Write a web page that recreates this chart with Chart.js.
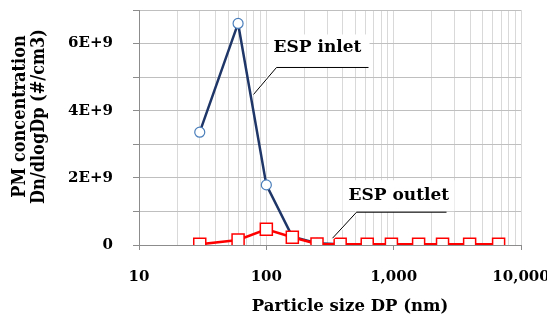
<!DOCTYPE html>
<html>
<head>
<meta charset="utf-8">
<script src="https://cdn.jsdelivr.net/npm/chart.js@4.4.0/dist/chart.umd.min.js"></script>
<style>
  html, body { margin: 0; padding: 0; background: #fff; }
  #wrap { width: 547px; height: 323px; position: relative; }
</style>
</head>
<body>
<div id="wrap"><canvas id="pmChart"></canvas></div>
<script>
// particle size (nm) of each stage
const sizes = [30, 60, 100, 160, 250, 380, 620, 960, 1570, 2420, 3950, 6670];
// number concentration dN/dlogDp (#/cm3)
const inlet  = [3.36e9, 6.6e9, 1.79e9, 0.25e9, 0.05e9, 0.02e9, 0.02e9, 0.02e9, 0.02e9, 0.02e9, 0.02e9, 0.02e9];
const outlet = [0.02e9, 0.15e9, 0.47e9, 0.23e9, 0.03e9, 0.02e9, 0.02e9, 0.02e9, 0.02e9, 0.02e9, 0.02e9, 0.02e9];
// axis ticks
const xDecades = [10, 100, 1000, 10000];
const yLabels = {0: '0', 2e9: '2E+9', 4e9: '4E+9', 6e9: '6E+9'};
const xTitle = 'Particle size DP (nm)';
const yTitle = ['PM concentration', 'Dn/dlogDp (#/cm3)'];

const font = 'DejaVu Serif';

// axis titles, placed by hand so they sit where the original has them
const titlePlugin = {
    id: 'axisTitles',
    afterDraw(chart) {
        const ctx = chart.ctx;
        const area = chart.chartArea;
        ctx.save();
        ctx.fillStyle = '#000';
        ctx.textAlign = 'center';
        ctx.textBaseline = 'middle';
        ctx.font = 'bold 16.5px "' + font + '"';
        ctx.fillText(xTitle, (area.left + area.right) / 2 + 20, 307);
        // y title: tall, slightly condensed lettering
        ctx.translate(0, (area.top + area.bottom) / 2 - 11);
        ctx.rotate(-Math.PI / 2);
        ctx.scale(0.85, 1);
        ctx.font = 'bold 19px "' + font + '"';
        yTitle.forEach((line, i) => ctx.fillText(line, 0, 20 + i * 19));
        ctx.restore();
    }
};

// label boxes with leader lines (ESP inlet / ESP outlet)
const calloutPlugin = {
    id: 'callouts',
    afterDatasetsDraw(chart) {
        const ctx = chart.ctx;
        const callouts = [
            { ds: 0, i: 1, t: 0.44, text: 'ESP inlet', tip: [3, 0], elbow: [23, -27], len: 92, box: [-8, -33, 101, 33], tx: -3, ty: -20 },
            { ds: 1, i: 4, t: 0.67, text: 'ESP outlet', tip: [0, -6], elbow: [24, -26], len: 90, box: [-14, -32, 112, 31], tx: -8, ty: -17 }
        ];
        ctx.save();
        callouts.forEach(c => {
            const pts = chart.getDatasetMeta(c.ds).data;
            const a = pts[c.i], b = pts[c.i + 1];
            const ax = a.x + (b.x - a.x) * c.t + c.tip[0];
            const ay = a.y + (b.y - a.y) * c.t + c.tip[1];
            const ex = ax + c.elbow[0], ey = ay + c.elbow[1];
            ctx.fillStyle = '#fff';
            ctx.fillRect(ex + c.box[0], ey + c.box[1], c.box[2], c.box[3]);
            ctx.strokeStyle = '#fff';
            ctx.lineWidth = 3;
            ctx.beginPath();
            ctx.moveTo(ax, ay);
            ctx.lineTo(ex, ey);
            ctx.stroke();
            ctx.strokeStyle = '#000';
            ctx.lineWidth = 1;
            ctx.beginPath();
            ctx.moveTo(ax, ay);
            ctx.lineTo(ex, ey);
            ctx.lineTo(ex + c.len, ey);
            ctx.stroke();
            ctx.fillStyle = '#000';
            ctx.font = 'bold 17px "' + font + '"';
            ctx.textBaseline = 'middle';
            ctx.textAlign = 'left';
            ctx.fillText(c.text, ex + c.tx, ey + c.ty);
        });
        ctx.restore();
    }
};

function noPad(scale) {
    scale.paddingTop = 0;
    scale.paddingBottom = 0;
    scale.paddingLeft = 0;
    scale.paddingRight = 0;
}

new Chart(document.getElementById('pmChart'), {
    type: 'line',
    data: {
        datasets: [{
            label: 'ESP inlet',
            data: sizes.map((s, i) => ({ x: s, y: inlet[i] })),
            borderColor: '#1f3768',
            borderWidth: 2.5,
            pointStyle: 'circle',
            pointRadius: 5,
            pointBorderWidth: 1.2,
            pointBorderColor: '#4a7ebb',
            pointBackgroundColor: '#fff',
            tension: 0,
            order: 1
        }, {
            label: 'ESP outlet',
            data: sizes.map((s, i) => ({ x: s, y: outlet[i] })),
            borderColor: '#ff0000',
            borderWidth: 2.5,
            pointStyle: 'rect',
            pointRadius: 8.5,
            pointBorderWidth: 1.5,
            pointBorderColor: '#ff0000',
            pointBackgroundColor: '#fff',
            tension: 0,
            order: 0
        }]
    },
    options: {
        responsive: true,
        maintainAspectRatio: false,
        animation: false,
        layout: { padding: { left: 0, right: 26, top: 9, bottom: 0 } },
        plugins: {
            legend: { display: false },
            tooltip: { enabled: false }
        },
        scales: {
            x: {
                type: 'logarithmic',
                min: 10,
                max: 10000,
                afterBuildTicks(scale) {
                    const ticks = [];
                    xDecades.forEach((d, k) => {
                        if (k === xDecades.length - 1) { ticks.push({ value: d }); return; }
                        for (let m = 1; m < 10; m++) ticks.push({ value: d * m });
                    });
                    scale.ticks = ticks;
                },
                afterFit(scale) { scale.height = 78; noPad(scale); },
                grid: {
                    color: '#d9d9d9',
                    lineWidth: 1,
                    tickLength: 5,
                    tickColor: c => xDecades.includes(c.tick && c.tick.value) ? '#8c8c8c' : 'rgba(0,0,0,0)'
                },
                border: { color: '#8c8c8c', width: 1 },
                ticks: {
                    autoSkip: false,
                    maxRotation: 0,
                    padding: 18,
                    color: '#000',
                    font: { family: font, size: 15, weight: 'bold' },
                    callback: v => xDecades.includes(v) ? v.toLocaleString('en-US') : ''
                }
            },
            y: {
                min: 0,
                max: 7e9,
                afterFit(scale) { scale.width = 139; noPad(scale); },
                grid: { color: '#bfbfbf', tickLength: 6, tickColor: '#8c8c8c' },
                border: { color: '#8c8c8c', width: 1 },
                ticks: {
                    stepSize: 1e9,
                    padding: 20,
                    color: '#000',
                    font: { family: font, size: 15, weight: 'bold' },
                    callback: v => yLabels[v] !== undefined ? yLabels[v] : ''
                }
            }
        }
    },
    plugins: [calloutPlugin, titlePlugin]
});
</script>
</body>
</html>
